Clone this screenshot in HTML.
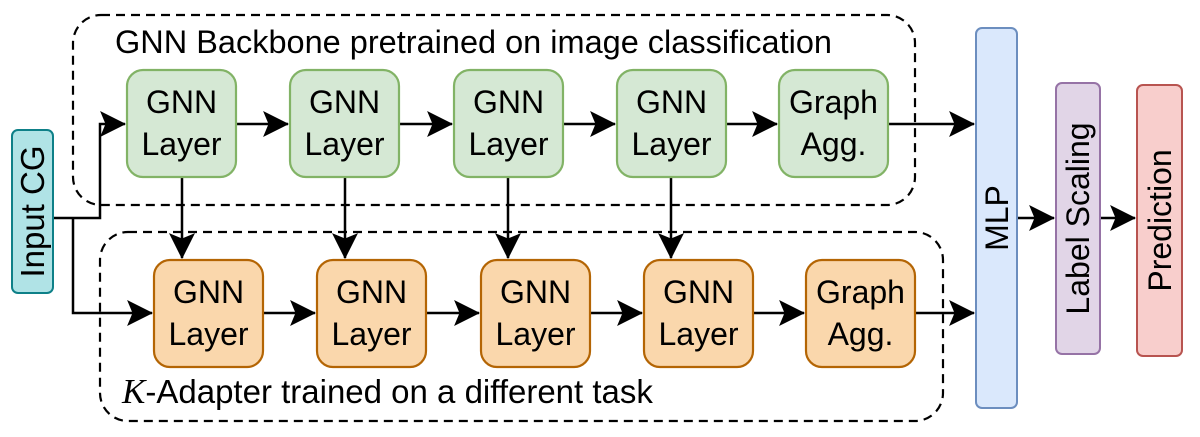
<!DOCTYPE html>
<html><head><style>
html,body{margin:0;padding:0;background:#fff;}
svg{display:block;}
text{font-family:"Liberation Sans",Arial,sans-serif;fill:#000;}
</style></head><body>
<svg width="1200" height="437" viewBox="0 0 1200 437" xmlns="http://www.w3.org/2000/svg">
<defs>
<marker id="b" viewBox="0 0 24 24" refX="23" refY="12" markerWidth="26" markerHeight="26" markerUnits="userSpaceOnUse" orient="auto">
<path d="M0,0 L24,12 L0,24 L5,12 z" fill="#000"/>
</marker>
</defs>
<rect x="73" y="15" width="842" height="190" rx="28" fill="none" stroke="#000" stroke-width="2.2" stroke-dasharray="9,6"/>
<rect x="100" y="232" width="843" height="189" rx="28" fill="none" stroke="#000" stroke-width="2.2" stroke-dasharray="9,6"/>
<text x="115" y="53" font-size="32" textLength="717" lengthAdjust="spacingAndGlyphs">GNN Backbone pretrained on image classification</text>
<text x="122" y="403" font-size="33"><tspan font-family="Liberation Serif" font-style="italic" font-size="35">K</tspan>-Adapter trained on a different task</text>

<g stroke="#000" stroke-width="2.5" fill="none">
<polyline points="53,218 100,218 100,124 125,124" marker-end="url(#b)"/>
<polyline points="73,218 73,313 152,313" marker-end="url(#b)"/>
<line x1="236" y1="124" x2="288" y2="124" marker-end="url(#b)"/>
<line x1="399" y1="124" x2="452" y2="124" marker-end="url(#b)"/>
<line x1="563" y1="124" x2="615" y2="124" marker-end="url(#b)"/>
<line x1="726" y1="124" x2="777" y2="124" marker-end="url(#b)"/>
<line x1="888" y1="124" x2="974" y2="124" marker-end="url(#b)"/>
<line x1="263" y1="313" x2="315" y2="313" marker-end="url(#b)"/>
<line x1="426" y1="313" x2="479" y2="313" marker-end="url(#b)"/>
<line x1="590" y1="313" x2="642" y2="313" marker-end="url(#b)"/>
<line x1="753" y1="313" x2="804" y2="313" marker-end="url(#b)"/>
<line x1="915" y1="313" x2="974" y2="313" marker-end="url(#b)"/>
<line x1="182" y1="177" x2="182" y2="258" marker-end="url(#b)"/>
<line x1="345" y1="177" x2="345" y2="258" marker-end="url(#b)"/>
<line x1="508" y1="177" x2="508" y2="258" marker-end="url(#b)"/>
<line x1="671" y1="177" x2="671" y2="258" marker-end="url(#b)"/>
<line x1="1017" y1="218" x2="1054" y2="218" marker-end="url(#b)"/>
<line x1="1100" y1="218" x2="1135" y2="218" marker-end="url(#b)"/>
</g>

<rect x="12" y="130" width="41" height="163" rx="6" fill="#b0e3e6" stroke="#0e8088" stroke-width="2"/>
<text transform="translate(44,211.5) rotate(-90)" font-size="33" text-anchor="middle">Input CG</text>

<g fill="#d5e8d4" stroke="#82b366" stroke-width="2.2">
<rect x="127" y="70" width="109" height="107" rx="16"/>
<rect x="290" y="70" width="109" height="107" rx="16"/>
<rect x="454" y="70" width="109" height="107" rx="16"/>
<rect x="617" y="70" width="109" height="107" rx="16"/>
<rect x="779" y="70" width="109" height="107" rx="16"/>
</g>
<g font-size="32" text-anchor="middle">
<text x="181.5" y="113">GNN</text><text x="181.5" y="155">Layer</text>
<text x="344.5" y="113">GNN</text><text x="344.5" y="155">Layer</text>
<text x="508.5" y="113">GNN</text><text x="508.5" y="155">Layer</text>
<text x="671.5" y="113">GNN</text><text x="671.5" y="155">Layer</text>
<text x="833.5" y="113">Graph</text><text x="833.5" y="155">Agg.</text>
</g>

<g fill="#fad7ac" stroke="#b46504" stroke-width="2.2">
<rect x="154" y="260" width="109" height="107" rx="16"/>
<rect x="317" y="260" width="109" height="107" rx="16"/>
<rect x="481" y="260" width="109" height="107" rx="16"/>
<rect x="644" y="260" width="109" height="107" rx="16"/>
<rect x="806" y="260" width="109" height="107" rx="16"/>
</g>
<g font-size="32" text-anchor="middle">
<text x="208.5" y="303">GNN</text><text x="208.5" y="345">Layer</text>
<text x="371.5" y="303">GNN</text><text x="371.5" y="345">Layer</text>
<text x="535.5" y="303">GNN</text><text x="535.5" y="345">Layer</text>
<text x="698.5" y="303">GNN</text><text x="698.5" y="345">Layer</text>
<text x="860.5" y="303">Graph</text><text x="860.5" y="345">Agg.</text>
</g>

<rect x="976" y="28" width="41" height="380" rx="6" fill="#dae8fc" stroke="#6c8ebf" stroke-width="2"/>
<text transform="translate(1008,218) rotate(-90)" font-size="32" text-anchor="middle">MLP</text>
<rect x="1056" y="83" width="44" height="271" rx="6" fill="#e1d5e7" stroke="#9673a6" stroke-width="2"/>
<text transform="translate(1089,218.5) rotate(-90)" font-size="32" text-anchor="middle">Label Scaling</text>
<rect x="1137" y="85" width="45" height="271" rx="6" fill="#f8cecc" stroke="#b85450" stroke-width="2"/>
<text transform="translate(1171,220.5) rotate(-90)" font-size="32" text-anchor="middle">Prediction</text>
</svg>
</body></html>
